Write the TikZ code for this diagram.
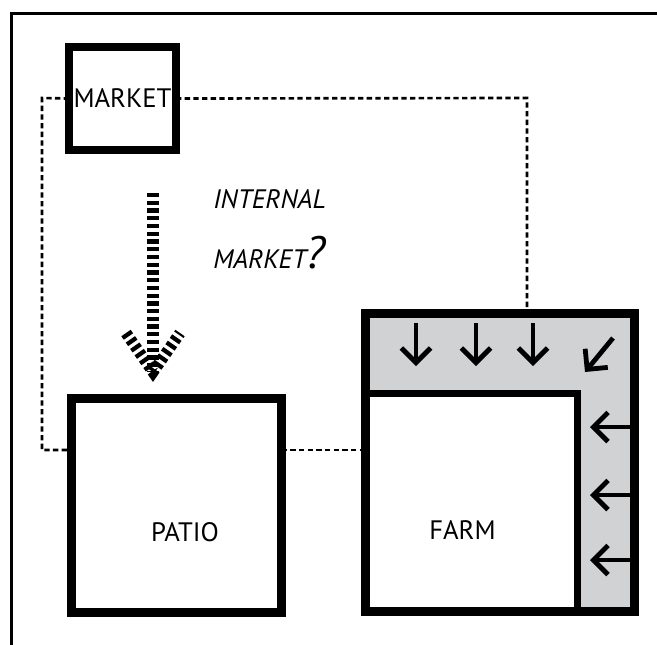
\documentclass[tikz,border=0pt]{standalone}
\usepackage{fontspec}
\setmainfont{PT Sans}
\usetikzlibrary{arrows.meta,positioning}
\definecolor{fmGray}{RGB}{209,210,212}
\definecolor{fmInk}{RGB}{0,0,0}
\tikzset{
    box/.style={
        draw=fmInk,line width=#1,fill=white,outer sep=0pt,inner sep=0pt
    },
    box/.default=6.75pt,
    tag/.style={
        font=\fontsize{20}{24}\selectfont,text=fmInk,anchor=base,inner sep=0pt
    },
    link/.style={
        draw=fmInk,line width=2pt,dash pattern=on 4pt off 2.5pt
    },
    flow/.style={
        draw=fmInk,line width=8.5pt,dash pattern=on 3.2pt off 2.6pt
    },
    wind/.style={
        -{Straight Barb[length=11pt,width=22pt,line width=3.6pt]},
        line width=3.6pt,draw=fmInk
    }
}

\begin{document}
\begin{tikzpicture}[x=0.75pt,y=-0.75pt]
\useasboundingbox (0,0) rectangle (657,644);
\draw[line width=2.25pt] (11.5,650) |- (665,13.5);

\coordinate (loopL) at (42,98);
\coordinate (loopR) at (527,98);
\coordinate (linkY) at (0,450);

\node[box=6pt,minimum width=80.25pt,minimum height=77.25pt,
label={[tag]center:MARKET}] (market) at (122.5,98.5) {};

\node[box,minimum width=157.5pt,minimum height=160.5pt,
label={[tag,xshift=6.4pt,yshift=-19.9pt]center:PATIO}] (patio) at (176.5,505.5) {};

\node[box,fill=fmGray,minimum width=201.75pt,minimum height=223.5pt]
(farmyard) at (500,462.5) {};
\node[box=5pt,minimum width=159pt,minimum height=163.5pt,
label={[tag,xshift=-6.75pt,yshift=-20.6pt]center:FARM}] (farm) at (471.5,502.5) {};
\draw[line width=6.75pt] (farmyard.south west) rectangle (farmyard.north east);

\node[tag,anchor=base west,font=\fontsize{20}{24}\itshape\selectfont]
(internal) at (213,208) {INTERNAL};
\node[tag,anchor=base west,font=\fontsize{20}{24}\itshape\selectfont]
(question) at (213,268) {MARKET{\fontsize{34}{36}\selectfont ?}};

% dotted links
\draw[link] (market.west) -- (loopL) |- (patio.west |- linkY);
\draw[link] (market.east) -- (loopR) -- (loopR |- farmyard.north);
\draw[link] (patio.east |- linkY) -- (farmyard.west |- linkY);

% market flow
\coordinate (flowTop) at (153,193);
\coordinate (flowTip) at (153,372);
\draw[flow] (flowTop) -- (flowTip);
\draw[flow] ([shift={(-27,-39)}]flowTip) -- (flowTip) -- ++(27,-39);

% arrows into the farm
\foreach \x [count=\i] in {416,476,533}{
  \coordinate (sky\i) at (\x,323);
  \draw[wind] (sky\i) -- ++(0,43);
}
\coordinate (skyD) at (613,338);
\draw[wind] (skyD) -- ++(-28,34);
\foreach \y [count=\i] in {427,495,560}{
  \coordinate (side\i) at (632,\y);
  \draw[wind] (side\i) -- ++(-42,0);
}

\end{tikzpicture}
\end{document}
